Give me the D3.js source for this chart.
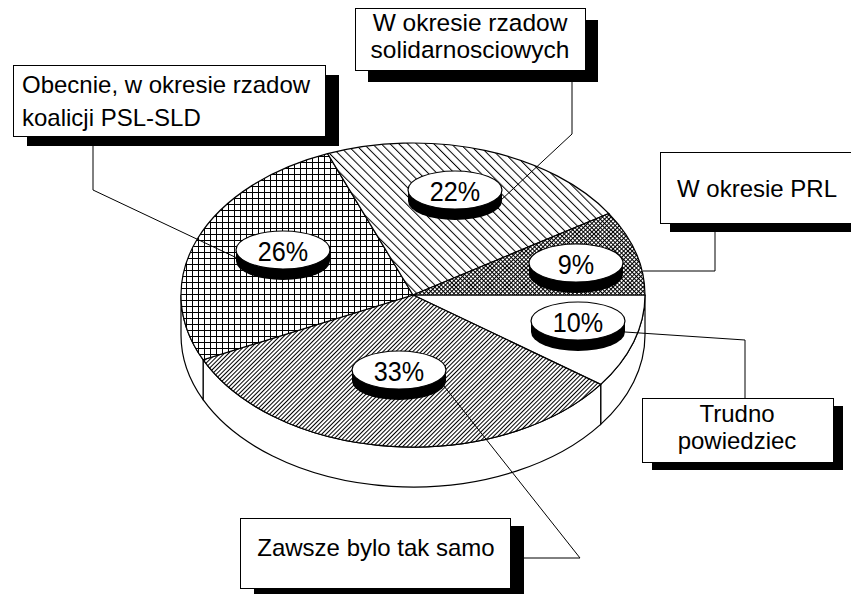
<!DOCTYPE html>
<html>
<head>
<meta charset="utf-8">
<script src="https://cdn.jsdelivr.net/npm/d3@7"></script>
<style>
body { margin: 0; background: #fff; }
svg { display: block; }
text { font-family: "Liberation Sans", Arial, sans-serif; fill: #000; }
</style>
</head>
<body>
<script>
// answers, clockwise from 3 o'clock
const answers = ["Trudno powiedziec", "Zawsze bylo tak samo", "Obecnie, w okresie rzadow koalicji PSL-SLD", "W okresie rzadow solidarnosciowych", "W okresie PRL"];
const shares = [10, 33, 26, 22, 9];
const boxLines = [["Trudno", "powiedziec"], ["Zawsze bylo tak samo"], ["Obecnie, w okresie rzadow", "koalicji PSL-SLD"], ["W okresie rzadow", "solidarnosciowych"], ["W okresie PRL"]];

const width = 851, height = 594;
const cx = 413, cy = 295, rx = 232, ry = 152, depth = 40;

// where the discs, boxes and leader lines sit
const layout = [
    {fill: "#fff", disc: [578, 321], box: {x: 642, y: 398, w: 191, h: 64, sx: 10, sy: 8, align: "middle", tx: 737, base: [422, 449], fs: 24},
     leader: [[625, 332], [745, 340], [745, 398]]},
    {fill: "url(#fine)", disc: [399, 370], box: {x: 240, y: 518, w: 270, h: 70, sx: 14, sy: 8, align: "middle", tx: 376, base: [556], fs: 24},
     leader: [[440, 381], [580, 558], [510, 558]]},
    {fill: "url(#grid)", disc: [283, 250], box: {x: 13, y: 65, w: 312, h: 71, sx: 14, sy: 10, align: "start", tx: 22, base: [93, 126], fs: 24},
     leader: [[93, 136], [93, 190], [237, 258]]},
    {fill: "url(#back)", disc: [455, 190], box: {x: 355, y: 8, w: 230, h: 62, sx: 13, sy: 12, align: "middle", tx: 470, base: [31, 58], fs: 24.5},
     leader: [[572, 70], [572, 134], [500, 201]]},
    {fill: "url(#cross)", disc: [576, 263], box: {x: 660, y: 152, w: 220, h: 71, sx: 10, sy: 9, align: "start", tx: 677, base: [197], fs: 24},
     leader: [[715, 223], [715, 271], [643, 271]]}
];

const svg = d3.select("body").append("svg")
    .attr("width", width)
    .attr("height", height);

const defs = svg.append("defs");

function hatch(id, size, paths, rotate) {
    const p = defs.append("pattern")
        .attr("id", id)
        .attr("patternUnits", "userSpaceOnUse")
        .attr("width", size)
        .attr("height", size);
    if (rotate) p.attr("patternTransform", `rotate(${rotate})`);
    p.append("rect").attr("width", size).attr("height", size).attr("fill", "#fff");
    paths.forEach(d => p.append("path").attr("d", d).attr("stroke", "#000").attr("stroke-width", 1).attr("fill", "none"));
}
hatch("grid", 6, ["M0,0.5H6", "M0.5,0V6"]);
hatch("back", 6.2, ["M0.5,0V6.2"], -45);
hatch("fine", 3, ["M0.5,0V3"], 45);
hatch("cross", 3, ["M0,0.5H3", "M0.5,0V3"], 45);

const pie = d3.pie().sort(null).startAngle(Math.PI / 2).endAngle(Math.PI / 2 + 2 * Math.PI);
const arcs = pie(shares);

const pt = (a, dy = 0) => [cx + rx * Math.sin(a), cy - ry * Math.cos(a) + dy];

// side wall (front half only)
const side = svg.append("g");
arcs.forEach(d => {
    const s0 = Math.max(d.startAngle, Math.PI / 2), s1 = Math.min(d.endAngle, 3 * Math.PI / 2);
    if (s1 <= s0) return;
    const large = s1 - s0 > Math.PI ? 1 : 0;
    side.append("path")
        .attr("d", `M${pt(s0)}A${rx},${ry} 0 ${large} 1 ${pt(s1)}L${pt(s1, depth)}A${rx},${ry} 0 ${large} 0 ${pt(s0, depth)}Z`)
        .attr("fill", "#fff")
        .attr("stroke", "#000")
        .attr("stroke-width", 1.2);
});

// top face
svg.append("g").selectAll("path")
    .data(arcs)
    .join("path")
    .attr("d", d => {
        const large = d.endAngle - d.startAngle > Math.PI ? 1 : 0;
        return `M${cx},${cy}L${pt(d.startAngle)}A${rx},${ry} 0 ${large} 1 ${pt(d.endAngle)}Z`;
    })
    .attr("fill", (d, i) => layout[i].fill)
    .attr("stroke", "#000")
    .attr("stroke-width", 1.2);

// leader lines
svg.append("g").selectAll("path")
    .data(layout)
    .join("path")
    .attr("d", d => d3.line()(d.leader))
    .attr("fill", "none")
    .attr("stroke", "#000")
    .attr("stroke-width", 1);

// percentage discs
const drx = 47, dry = 19, dd = 11;
const discs = svg.append("g").selectAll("g")
    .data(arcs)
    .join("g")
    .attr("transform", (d, i) => `translate(${layout[i].disc})`);

discs.append("ellipse").attr("cy", dd).attr("rx", drx).attr("ry", dry).attr("fill", "#000");
discs.append("rect").attr("x", -drx).attr("width", 2 * drx).attr("height", dd).attr("fill", "#000");
discs.append("ellipse").attr("rx", drx).attr("ry", dry).attr("fill", "#fff").attr("stroke", "#000").attr("stroke-width", 1.2);
discs.append("text")
    .attr("transform", "translate(0,11) scale(0.9,1)")
    .attr("text-anchor", "middle")
    .style("font-size", "28px")
    .text(d => `${d.data}%`);

// label boxes
const boxes = svg.append("g").selectAll("g")
    .data(answers)
    .join("g");

boxes.append("rect")
    .attr("x", (d, i) => layout[i].box.x + layout[i].box.sx)
    .attr("y", (d, i) => layout[i].box.y + layout[i].box.sy)
    .attr("width", (d, i) => layout[i].box.w)
    .attr("height", (d, i) => layout[i].box.h)
    .attr("fill", "#000");

boxes.append("rect")
    .attr("x", (d, i) => layout[i].box.x + 0.5)
    .attr("y", (d, i) => layout[i].box.y + 0.5)
    .attr("width", (d, i) => layout[i].box.w)
    .attr("height", (d, i) => layout[i].box.h)
    .attr("fill", "#fff")
    .attr("stroke", "#000")
    .attr("stroke-width", 1);

boxes.each(function(d, i) {
    const b = layout[i].box;
    d3.select(this).selectAll("text")
        .data(boxLines[i])
        .join("text")
        .attr("x", b.tx)
        .attr("y", (t, j) => b.base[j])
        .attr("text-anchor", b.align)
        .style("font-size", `${b.fs}px`)
        .text(t => t);
});
</script>
</body>
</html>
